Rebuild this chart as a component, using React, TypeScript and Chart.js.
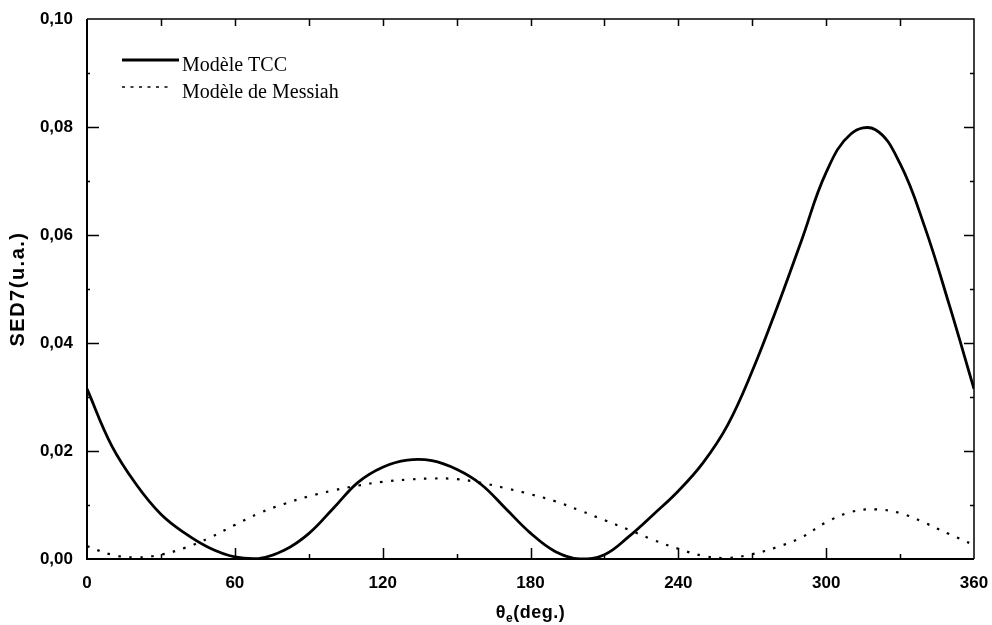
import React, { useEffect, useRef } from "react";
import { Chart, registerables } from "chart.js";

Chart.register(...registerables);

// angle θe in degrees
const THETA = [0, 10, 20, 30, 40, 50, 60, 70, 80, 90, 100, 110, 120, 130, 140, 150, 160, 170, 180, 190, 200, 210, 220, 230, 240, 250, 260, 270, 280, 290, 300, 310, 320, 330, 340, 350, 360];
// Modèle TCC
const TCC = [0.0315, 0.021, 0.0138, 0.0083, 0.0047, 0.002, 0.0004, 0.0001, 0.0016, 0.0047, 0.0094, 0.0142, 0.017, 0.0183, 0.0182, 0.0166, 0.0138, 0.0093, 0.0048, 0.0014, 0.0, 0.0008, 0.0042, 0.0083, 0.0126, 0.0178, 0.0248, 0.0348, 0.0465, 0.059, 0.0716, 0.0787, 0.0795, 0.0732, 0.0615, 0.047, 0.0315];
// Modèle de Messiah
const MESSIAH = [0.0024, 0.0008, 0.0003, 0.0008, 0.0021, 0.004, 0.0063, 0.0085, 0.0102, 0.0116, 0.0127, 0.0136, 0.0143, 0.0147, 0.0149, 0.0148, 0.0141, 0.0131, 0.012, 0.0107, 0.009, 0.0072, 0.0054, 0.0035, 0.0019, 0.0006, 0.0002, 0.0009, 0.0022, 0.004, 0.0068, 0.0087, 0.0092, 0.0085, 0.0067, 0.0046, 0.0026];

const SERIES_LABELS = ["Modèle TCC", "Modèle de Messiah"];
const X_MIN = 0;
const X_MAX = 360;
const X_STEP = 60;
const X_MINOR = 30;
const Y_MIN = 0;
const Y_MAX = 0.1;
const Y_STEP = 0.02;
const Y_MINOR = 0.01;
const Y_TITLE = "SED7(u.a.)";
const X_TITLE_MAIN = "θ";
const X_TITLE_SUB = "e";
const X_TITLE_REST = "(deg.)";

const SANS = "'Liberation Sans', Arial, sans-serif";
const SERIF = "'Liberation Serif', 'Times New Roman', serif";

export default function App() {
  const ref = useRef<HTMLCanvasElement | null>(null);

  useEffect(() => {
    document.body.style.margin = "0";
    const canvas = ref.current;
    if (!canvas) return;

    const decorPlugin = {
      id: "decor",
      afterDraw(chart: any) {
        const { ctx, chartArea: a, scales } = chart;
        const xs = scales.x;
        const ys = scales.y;
        ctx.save();
        ctx.strokeStyle = "#000";
        ctx.fillStyle = "#000";
        ctx.setLineDash([]);
        // frame
        ctx.lineWidth = 2;
        ctx.beginPath();
        ctx.moveTo(a.left, a.top);
        ctx.lineTo(a.left, a.bottom);
        ctx.lineTo(a.right, a.bottom);
        ctx.stroke();
        ctx.lineWidth = 1.5;
        ctx.beginPath();
        ctx.moveTo(a.left, a.top);
        ctx.lineTo(a.right, a.top);
        ctx.lineTo(a.right, a.bottom);
        ctx.stroke();

        // inward ticks
        ctx.lineWidth = 1.5;
        ctx.beginPath();
        for (let v = X_MIN; v <= X_MAX + 1e-9; v += X_MINOR) {
          const px = Math.round(xs.getPixelForValue(v)) + 0.5;
          const major = Math.abs(v / X_STEP - Math.round(v / X_STEP)) < 1e-6;
          if (v === X_MIN || v === X_MAX) continue;
          ctx.moveTo(px, a.bottom);
          ctx.lineTo(px, a.bottom - (major ? 11 : 5));
          ctx.moveTo(px, a.top);
          ctx.lineTo(px, a.top + 7);
        }
        for (let v = Y_MIN; v <= Y_MAX + 1e-9; v += Y_MINOR) {
          const py = Math.round(ys.getPixelForValue(v)) + 0.5;
          const major = Math.abs(v / Y_STEP - Math.round(v / Y_STEP)) < 1e-6;
          if (Math.abs(v - Y_MIN) < 1e-9 || Math.abs(v - Y_MAX) < 1e-9) continue;
          ctx.moveTo(a.left, py);
          ctx.lineTo(a.left + (major ? 12 : 3), py);
          ctx.moveTo(a.right, py);
          ctx.lineTo(a.right - (major ? 10 : 4), py);
        }
        ctx.stroke();

        // legend inside plot
        const ds = chart.data.datasets;
        const lx0 = a.left + 35;
        const rows = [
          { y: a.top + 41, x1: a.left + 92, d: ds[0] },
          { y: a.top + 68, x1: a.left + 86, d: ds[1] },
        ];
        ctx.font = `20px ${SERIF}`;
        ctx.textBaseline = "alphabetic";
        ctx.textAlign = "left";
        rows.forEach((r, i) => {
          ctx.lineWidth = i === 0 ? 3 : 1.5;
          ctx.setLineDash(i === 0 ? [] : [3, 5.5]);
          ctx.beginPath();
          ctx.moveTo(lx0, r.y);
          ctx.lineTo(r.x1, r.y);
          ctx.stroke();
          ctx.setLineDash([]);
          ctx.fillText(r.d.label, a.left + 95, r.y + 11);
        });

        // y title
        ctx.save();
        ctx.translate(18, (a.top + a.bottom) / 2);
        ctx.rotate(-Math.PI / 2);
        ctx.font = `bold 20px ${SANS}`;
        (ctx as any).letterSpacing = "1.5px";
        ctx.textAlign = "center";
        ctx.textBaseline = "middle";
        ctx.fillText(Y_TITLE, 0, 0);
        ctx.restore();

        // x title with subscript
        ctx.save();
        (ctx as any).letterSpacing = "0.5px";
        ctx.textBaseline = "alphabetic";
        ctx.textAlign = "left";
        const mainFont = `bold 18px ${SANS}`;
        const subFont = `bold 12px ${SANS}`;
        ctx.font = mainFont;
        const w1 = ctx.measureText(X_TITLE_MAIN).width;
        const w3 = ctx.measureText(X_TITLE_REST).width;
        ctx.font = subFont;
        const w2 = ctx.measureText(X_TITLE_SUB).width;
        const total = w1 + w2 + w3;
        let tx = (a.left + a.right) / 2 - total / 2;
        const ty = 618;
        ctx.font = mainFont;
        ctx.fillText(X_TITLE_MAIN, tx, ty);
        tx += w1;
        ctx.font = subFont;
        ctx.fillText(X_TITLE_SUB, tx, ty + 4);
        tx += w2;
        ctx.font = mainFont;
        ctx.fillText(X_TITLE_REST, tx, ty);
        ctx.restore();

        ctx.restore();
      },
    };

    const chart = new Chart(canvas, {
      type: "line",
      data: {
        datasets: [
          {
            label: SERIES_LABELS[0],
            data: THETA.map((t, i) => ({ x: t, y: TCC[i] })),
            borderColor: "#000",
            borderWidth: 2.8,
            pointRadius: 0,
            fill: false,
            tension: 0.4,
          },
          {
            label: SERIES_LABELS[1],
            data: THETA.map((t, i) => ({ x: t, y: MESSIAH[i] })),
            borderColor: "#000",
            borderWidth: 2.2,
            borderDash: [2.5, 8.5],
            pointRadius: 0,
            fill: false,
            tension: 0.4,
          },
        ],
      },
      options: {
        responsive: false,
        animation: false,
        events: [],
        layout: { padding: { top: 19, right: 18, left: 0, bottom: 0 } },
        plugins: {
          legend: { display: false },
          tooltip: { enabled: false },
          title: { display: false },
        },
        scales: {
          x: {
            type: "linear",
            min: X_MIN,
            max: X_MAX,
            ticks: {
              stepSize: X_STEP,
              padding: 14,
              maxRotation: 0,
              color: "#000",
              font: { family: SANS, size: 17, weight: "bold" },
            },
            grid: { display: false, drawTicks: false },
            border: { display: false },
            afterFit: (s: any) => {
              s.height = 66;
              s.paddingLeft = 0;
              s.paddingRight = 0;
            },
          },
          y: {
            type: "linear",
            min: Y_MIN,
            max: Y_MAX,
            ticks: {
              stepSize: Y_STEP,
              padding: 14,
              color: "#000",
              font: { family: SANS, size: 17, weight: "bold" },
              callback: (v: any) => Number(v).toFixed(2).replace(".", ","),
            },
            grid: { display: false, drawTicks: false },
            border: { display: false },
            afterFit: (s: any) => {
              s.width = 87;
              s.paddingTop = 0;
              s.paddingBottom = 0;
            },
          },
        },
      },
      plugins: [decorPlugin],
    } as any);

    return () => chart.destroy();
  }, []);

  return (
    <div style={{ width: 992, height: 625, background: "#fff" }}>
      <canvas ref={ref} width={992} height={625} style={{ width: 992, height: 625, display: "block" }} />
    </div>
  );
}
